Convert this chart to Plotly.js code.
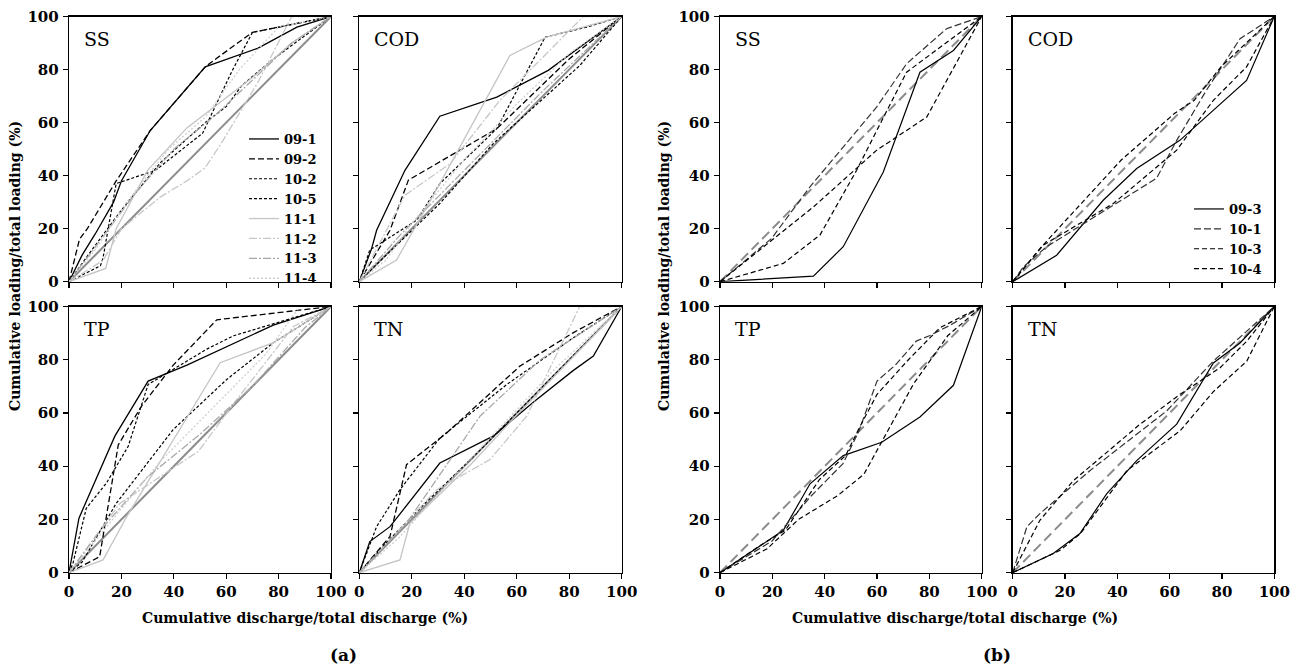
<!DOCTYPE html>
<html>
<head>
<meta charset="utf-8">
<script src="https://cdn.plot.ly/plotly-3.0.1.min.js"></script>
<style>html,body{margin:0;padding:0;background:#fff;}#chart{width:1300px;height:672px;}</style>
</head>
<body>
<div id="chart"></div>
<script>
// ---------------- DATA ----------------
// Group (a): events 09-1 ... 11-4
const seriesA = ['09-1','09-2','10-2','10-5','11-1','11-2','11-3','11-4'];
const seriesB = ['09-3','10-1','10-3','10-4'];
const pollutants = ['SS','COD','TP','TN'];
const diagX = [0, 100];
const diagY = [0, 100];

// (a) SS
const aSS_091_x = [0,5,10,17,20,31,52,72,87,100];
const aSS_091_y = [0,10,18,30,38,57,81,88,96,100];
const aSS_092_x = [0,4,7,18,31,52,56,70,100];
const aSS_092_y = [0,16,20,38,57,81,84,94,100];
const aSS_102_x = [0,12,13,18,33,51,62,70,100];
const aSS_102_y = [0,6,9,37,42,56,79,94,100];
const aSS_105_x = [0,8,20,35,52,60,66,78,100];
const aSS_105_y = [0,11,27,45,60,66,74,84,100];
const aSS_111_x = [0,14,18,30,45,58,70,85,100];
const aSS_111_y = [0,5,20,42,58,68,77,90,100];
const aSS_112_x = [0,13,20,35,45,52,58,72,85,100];
const aSS_112_y = [0,8,20,32,38,43,52,75,100,100];
const aSS_113_x = [0,10,25,40,55,70,85,100];
const aSS_113_y = [0,13,33,50,62,76,90,100];
const aSS_114_x = [0,10,22,38,52,65,80,100];
const aSS_114_y = [0,12,30,50,62,80,96,100];

// (a) COD
const aCOD_091_x = [0,4.7,6.6,17.4,30.7,52.4,72,100];
const aCOD_091_y = [0,12.5,19.4,42,62.4,69.6,79.7,100];
const aCOD_092_x = [0,11.7,18.7,52.4,80,100];
const aCOD_092_y = [0,19.4,38.3,57.7,84,100];
const aCOD_102_x = [0,4,6,21.9,30.7,52.4,70.8,86.7,100];
const aCOD_102_y = [0,12,13.2,23.2,37,57.7,92.2,96,100];
const aCOD_105_x = [0,5,30.7,51,84,100];
const aCOD_105_y = [0,5,29.5,52,81.5,100];
const aCOD_111_x = [0,14.2,30.7,57.4,71.4,100];
const aCOD_111_y = [0,8.2,37,85.3,92.2,100];
const aCOD_112_x = [0,17.4,34.6,53.6,85.4,100];
const aCOD_112_y = [0,32.6,44.5,68.4,100,100];
const aCOD_113_x = [0,15,30,50,70,100];
const aCOD_113_y = [0,17,32,52,72,100];
const aCOD_114_x = [0,10,20,40,60,80,100];
const aCOD_114_y = [0,8,22,46,67,86,100];

// (a) TP
const aTP_091_x = [0,3.8,17.5,30.2,45,60.2,78,100];
const aTP_091_y = [0,20.5,51.3,72,78,85,93,100];
const aTP_092_x = [0,11.7,18.8,27.7,39.8,56.4,100];
const aTP_092_y = [0,6,48,62.6,78,95,100];
const aTP_102_x = [0,1.5,6.6,14.3,22.6,30.2,52.6,62.8,100];
const aTP_102_y = [0,3.5,24.2,33.7,47.5,70.7,84,89,100];
const aTP_105_x = [0,5,18,39.8,60.2,78,100];
const aTP_105_y = [0,4,26,53.8,72.6,86.4,100];
const aTP_111_x = [0,13,22,57.7,78,100];
const aTP_111_y = [0,4.8,21,78.9,86.4,100];
const aTP_112_x = [0,19.4,49.4,64,85.7,100];
const aTP_112_y = [0,26,45.6,65,92.5,100];
const aTP_113_x = [0,12,30,50,70,90,100];
const aTP_113_y = [0,16,36,52,70,92,100];
const aTP_114_x = [0,15,35,55,75,88,100];
const aTP_114_y = [0,18,42,62,82,100,100];

// (a) TN
const aTN_091_x = [0,4,11.7,30.7,51,66.3,81.6,89.2,100];
const aTN_091_y = [0,11.7,17.3,41.2,51.3,64,76,81.4,100];
const aTN_092_x = [0,11.7,18,33.3,61.2,81.6,100];
const aTN_092_y = [0,13.6,40.6,52.5,77.6,90.2,100];
const aTN_102_x = [0,6.6,15.5,30.7,56.2,81.6,100];
const aTN_102_y = [0,17.3,31.2,50.6,70.7,88.3,100];
const aTN_105_x = [0,10,25,45,70,100];
const aTN_105_y = [0,11,26,45,70,100];
const aTN_111_x = [0,15.5,19.3,43,58.4,100];
const aTN_111_y = [0,4.8,18.6,41.2,57.5,100];
const aTN_112_x = [0,29.5,49.8,63.8,84,100];
const aTN_112_y = [0,31.2,42.5,58.8,100,100];
const aTN_113_x = [0,18,46,69,100];
const aTN_113_y = [0,18.6,58.8,80,100];
const aTN_114_x = [0,15,35,55,75,100];
const aTN_114_y = [0,13,35,56,77,100];

// (b) SS
const bSS_093_x = [0,35.7,47.1,62.4,76.4,89.2,100];
const bSS_093_y = [0,2.1,13.2,41.4,79,87.2,100];
const bSS_101_x = [0,19.7,34.4,59.9,71.3,86.6,100];
const bSS_101_y = [0,16.3,35.8,65.9,82.2,95.4,100];
const bSS_103_x = [0,24.2,38.2,52.2,59.9,71.3,100];
const bSS_103_y = [0,6.9,17.6,42,57,79,100];
const bSS_104_x = [0,35.7,59.9,79,100];
const bSS_104_y = [0,28.2,49.6,62.1,100];

// (b) COD
const bCOD_093_x = [0,16.8,34.6,47.4,63.9,76.7,89.4,100];
const bCOD_093_y = [0,10,30.7,42.7,53.3,64.6,75.9,100];
const bCOD_101_x = [0,4.1,13,33.4,55,62.7,74,86.9,100];
const bCOD_101_y = [0,5.6,13.2,25.7,39,53.3,72.1,91.6,100];
const bCOD_103_x = [0,11.7,38.5,62.7,76.7,89.4,100];
const bCOD_103_y = [0,13.8,29.5,49.6,68.4,81,100];
const bCOD_104_x = [0,10.4,41.4,61.8,69.4,79.6,100];
const bCOD_104_y = [0,12.5,45.8,63.4,68.4,81,100];

// (b) TP
const bTP_093_x = [0,24.2,34.4,47.1,61.8,76.4,89.2,100];
const bTP_093_y = [0,15.9,33.4,44,49,58.5,70.4,100];
const bTP_101_x = [0,20,35,47,53,60,67,75,80,88,100];
const bTP_101_y = [0,12,29,41,53,72,78,87,89,93,100];
const bTP_103_x = [0,18,30,45,55,64,74,87,100];
const bTP_103_y = [0,9,20,29,37,53,71,89,100];
const bTP_104_x = [0,15,25,38,48,53,60,72,84,100];
const bTP_104_y = [0,10,16,35,44,54,67,80,92,100];

// (b) TN
const bTN_093_x = [0,15.5,25.7,35.9,47.4,62.7,76.7,86.9,100];
const bTN_093_y = [0,7.2,14.7,29.6,42.1,55.8,78.8,86.3,100];
const bTN_101_x = [0,5.4,10.4,29.6,58.9,76.7,100];
const bTN_101_y = [0,17.2,22.2,38.4,60.8,79.5,100];
const bTN_103_x = [0,10.4,23.2,48.7,64,79.3,89.5,100];
const bTN_103_y = [0,19.7,34.6,55.8,67,77,87,100];
const bTN_104_x = [0,18.3,25.9,43.7,64,76.7,89.5,100];
const bTN_104_y = [0,8.5,14.7,38.4,53.3,68,79.5,100];

const tickVals = [0,20,40,60,80,100];
const tickText = ['0','20','40','60','80','100'];

// ---------------- STYLES ----------------
const styleA = {
  '09-1': {color:'#000000', dash:'solid', width:1.3},
  '09-2': {color:'#000000', dash:'6px,3px', width:1.3},
  '10-2': {color:'#000000', dash:'3px,2px', width:1.2},
  '10-5': {color:'#000000', dash:'3px,2px', width:1.2},
  '11-1': {color:'#c4c4c4', dash:'solid', width:1.3},
  '11-2': {color:'#c8c8c8', dash:'8px,2px,2px,2px', width:1.3},
  '11-3': {color:'#a8a8a8', dash:'8px,2px,2px,2px', width:1.3},
  '11-4': {color:'#cfcfcf', dash:'2px,2px', width:1.3}
};
const styleB = {
  '09-3': {color:'#000000', dash:'solid', width:1.2},
  '10-1': {color:'#333333', dash:'7px,3px', width:1.2},
  '10-3': {color:'#000000', dash:'5px,3px', width:1.2},
  '10-4': {color:'#000000', dash:'5px,3px', width:1.2}
};

const dataA = {
  SS:  [[aSS_091_x,aSS_091_y],[aSS_092_x,aSS_092_y],[aSS_102_x,aSS_102_y],[aSS_105_x,aSS_105_y],[aSS_111_x,aSS_111_y],[aSS_112_x,aSS_112_y],[aSS_113_x,aSS_113_y],[aSS_114_x,aSS_114_y]],
  COD: [[aCOD_091_x,aCOD_091_y],[aCOD_092_x,aCOD_092_y],[aCOD_102_x,aCOD_102_y],[aCOD_105_x,aCOD_105_y],[aCOD_111_x,aCOD_111_y],[aCOD_112_x,aCOD_112_y],[aCOD_113_x,aCOD_113_y],[aCOD_114_x,aCOD_114_y]],
  TP:  [[aTP_091_x,aTP_091_y],[aTP_092_x,aTP_092_y],[aTP_102_x,aTP_102_y],[aTP_105_x,aTP_105_y],[aTP_111_x,aTP_111_y],[aTP_112_x,aTP_112_y],[aTP_113_x,aTP_113_y],[aTP_114_x,aTP_114_y]],
  TN:  [[aTN_091_x,aTN_091_y],[aTN_092_x,aTN_092_y],[aTN_102_x,aTN_102_y],[aTN_105_x,aTN_105_y],[aTN_111_x,aTN_111_y],[aTN_112_x,aTN_112_y],[aTN_113_x,aTN_113_y],[aTN_114_x,aTN_114_y]]
};
const dataB = {
  SS:  [[bSS_093_x,bSS_093_y],[bSS_101_x,bSS_101_y],[bSS_103_x,bSS_103_y],[bSS_104_x,bSS_104_y]],
  COD: [[bCOD_093_x,bCOD_093_y],[bCOD_101_x,bCOD_101_y],[bCOD_103_x,bCOD_103_y],[bCOD_104_x,bCOD_104_y]],
  TP:  [[bTP_093_x,bTP_093_y],[bTP_101_x,bTP_101_y],[bTP_103_x,bTP_103_y],[bTP_104_x,bTP_104_y]],
  TN:  [[bTN_093_x,bTN_093_y],[bTN_101_x,bTN_101_y],[bTN_103_x,bTN_103_y],[bTN_104_x,bTN_104_y]]
};

// ---------------- LAYOUT GEOMETRY ----------------
const W = 1300, H = 672;
const px2x = p => p / W;
const px2y = p => 1 - p / H;
// panel pixel boxes [left, right, top, bottom]
const boxes = [
  [69, 331, 16.5, 281.7],   // a SS
  [359.3, 621.7, 16.5, 281.7], // a COD
  [69, 331, 306.5, 572.7],  // a TP
  [359.3, 621.7, 306.5, 572.7], // a TN
  [720, 981.7, 16.5, 281.7],   // b SS
  [1012.7, 1274.3, 16.5, 281.7], // b COD
  [720, 981.7, 306.5, 572.7],  // b TP
  [1012.7, 1274.3, 306.5, 572.7] // b TN
];

const FONT = 'DejaVu Serif, Liberation Serif, serif';
const traces = [];
const layout = {
  width: W, height: H,
  margin: {l:0, r:0, t:0, b:0},
  paper_bgcolor: '#ffffff', plot_bgcolor: '#ffffff',
  font: {family: FONT, color: '#000'},
  showlegend: true,
  annotations: [],
  legend: {
    x: px2x(244), y: px2y(124), xanchor:'left', yanchor:'top',
    bgcolor: 'rgba(0,0,0,0)', borderwidth: 0,
    font: {family: FONT, size: 13, color:'#000', weight: 'bold'},
    tracegroupgap: 0, itemwidth: 30
  },
  legend2: {
    x: px2x(1189), y: px2y(194), xanchor:'left', yanchor:'top',
    bgcolor: 'rgba(0,0,0,0)', borderwidth: 0,
    font: {family: FONT, size: 13, color:'#000', weight: 'bold'},
    tracegroupgap: 0, itemwidth: 30
  }
};

boxes.forEach((b, i) => {
  const n = i + 1;
  const xk = n === 1 ? 'xaxis' : 'xaxis' + n;
  const yk = n === 1 ? 'yaxis' : 'yaxis' + n;
  const isBottom = (i % 4) >= 2;
  const isLeft = (i % 2) === 0;
  const common = {
    range: [0, 100], tickvals: tickVals, ticktext: tickText,
    ticks: 'outside', ticklen: 5, tickwidth: 1.2, tickcolor: '#000',
    showline: true, linecolor: '#000', linewidth: 1.3, mirror: true,
    showgrid: false, zeroline: false, fixedrange: true,
    tickfont: {family: FONT, size: 15, color: '#000', weight: 'bold'}
  };
  layout[xk] = Object.assign({}, common, {
    domain: [px2x(b[0]), px2x(b[1])],
    anchor: 'y' + (n === 1 ? '' : n),
    showticklabels: isBottom
  });
  layout[yk] = Object.assign({}, common, {
    domain: [px2y(b[3]), px2y(b[2])],
    anchor: 'x' + (n === 1 ? '' : n),
    showticklabels: isLeft,
    ticklabelstandoff: 1
  });
  // panel label
  layout.annotations.push({
    xref: 'x' + (n === 1 ? '' : n) + ' domain', yref: 'y' + (n === 1 ? '' : n) + ' domain',
    x: 0.05, y: 0.915, xanchor: 'left', yanchor: 'middle', showarrow: false,
    text: pollutants[i % 4], font: {family: FONT, size: 19, color: '#000'}
  });
});

function axRef(n){ return n === 1 ? '' : String(n); }

// group (a)
pollutants.forEach((p, pi) => {
  const n = pi + 1;
  // 1:1 line
  traces.push({x: diagX, y: diagY, mode:'lines', xaxis:'x'+axRef(n), yaxis:'y'+axRef(n),
    line:{color:'#8c8c8c', width:2}, showlegend:false, hoverinfo:'skip'});
  dataA[p].forEach((xy, si) => {
    const name = seriesA[si];
    traces.push({
      x: xy[0], y: xy[1], mode: 'lines', name: name,
      xaxis: 'x' + axRef(n), yaxis: 'y' + axRef(n),
      line: styleA[name], legend: 'legend', legendgroup: 'a' + name,
      showlegend: pi === 0
    });
  });
});
// group (b)
pollutants.forEach((p, pi) => {
  const n = pi + 5;
  traces.push({x: diagX, y: diagY, mode:'lines', xaxis:'x'+axRef(n), yaxis:'y'+axRef(n),
    line:{color:'#8c8c8c', width:2, dash:'10px,5px'}, showlegend:false, hoverinfo:'skip'});
  dataB[p].forEach((xy, si) => {
    const name = seriesB[si];
    traces.push({
      x: xy[0], y: xy[1], mode: 'lines', name: name,
      xaxis: 'x' + axRef(n), yaxis: 'y' + axRef(n),
      line: styleB[name], legend: 'legend2', legendgroup: 'b' + name,
      showlegend: pi === 1
    });
  });
});

// shared titles
const titleFont = {family: FONT, size: 14, color: '#000', weight: 'bold'};
const labFont = {family: FONT, size: 17, color: '#000', weight: 'bold'};
layout.annotations.push(
  {xref:'paper', yref:'paper', x: px2x(305), y: px2y(618), xanchor:'center', yanchor:'middle', showarrow:false,
   text:'Cumulative discharge/total discharge (%)', font: titleFont},
  {xref:'paper', yref:'paper', x: px2x(955), y: px2y(618), xanchor:'center', yanchor:'middle', showarrow:false,
   text:'Cumulative discharge/total discharge (%)', font: titleFont},
  {xref:'paper', yref:'paper', x: px2x(343), y: px2y(655), xanchor:'center', yanchor:'middle', showarrow:false,
   text:'(a)', font: labFont},
  {xref:'paper', yref:'paper', x: px2x(997), y: px2y(655), xanchor:'center', yanchor:'middle', showarrow:false,
   text:'(b)', font: labFont},
  {xref:'paper', yref:'paper', x: px2x(15), y: px2y(266), xanchor:'center', yanchor:'middle', showarrow:false,
   textangle:-90, text:'Cumulative loading/total loading (%)', font: titleFont},
  {xref:'paper', yref:'paper', x: px2x(664), y: px2y(266), xanchor:'center', yanchor:'middle', showarrow:false,
   textangle:-90, text:'Cumulative loading/total loading (%)', font: titleFont}
);

Plotly.newPlot('chart', traces, layout, {staticPlot: true, displayModeBar: false});
</script>
</body>
</html>
